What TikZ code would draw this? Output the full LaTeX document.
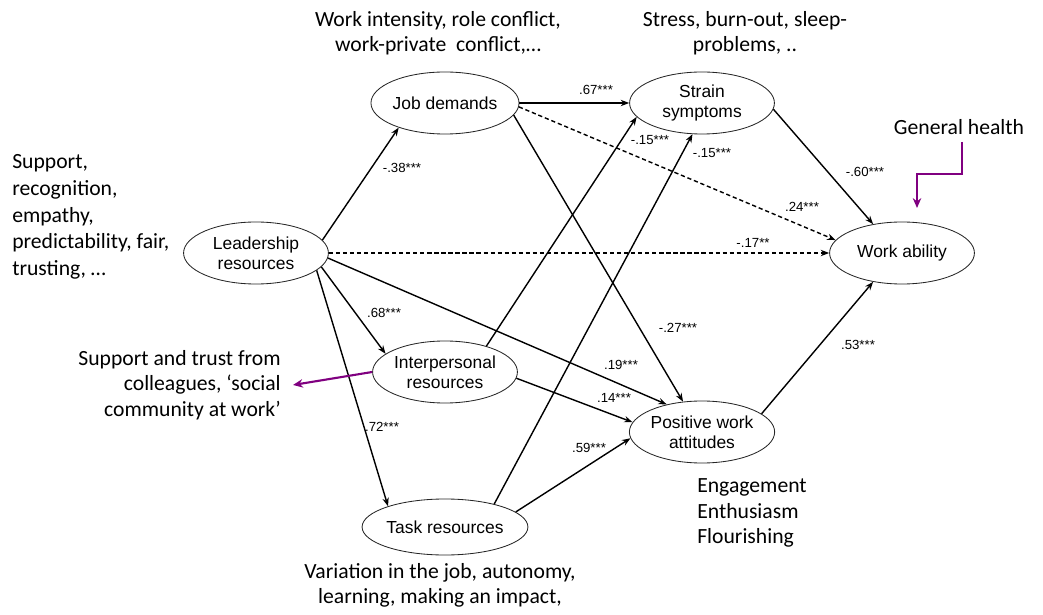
\documentclass[tikz,border=0pt]{standalone}
\usepackage{fontspec}
\setmainfont{Carlito}
\newfontfamily\diagfont{Liberation Sans}
\usetikzlibrary{arrows.meta,shapes.geometric}
\definecolor{notepurple}{RGB}{128,0,128}

\begin{document}
\begin{tikzpicture}[x=0.025cm,y=-0.025cm,
    construct/.style={ellipse, draw=black!85, line width=0.6pt, minimum width=3.62cm,
        minimum height=1.55cm, inner sep=0pt, align=center,
        font=\diagfont\fontsize{12.4}{14.5}\selectfont},
    effect/.style={-{Stealth[length=6pt,width=4.5pt]}, line width=1pt},
    weak/.style={effect, dash pattern=on 3pt off 2pt},
    coef/.style={font=\diagfont\fontsize{9.4}{10}\selectfont, inner sep=1pt},
    note/.style={font=\fontsize{15.4}{18}\selectfont, inner sep=0pt},
    pointer/.style={-{Stealth[length=7pt,width=6pt]}, line width=1.5pt, notepurple}]
    \useasboundingbox (0,0) rectangle (1043,615);

    % constructs of the model
    \node[construct] (job) at (445,103) {Job demands};
    \node[construct] (strain) at (702,103) {Strain\\symptoms};
    \node[construct] (lead) at (256,253) {Leadership\\resources};
    \node[construct] (work) at (902,253) {Work ability};
    \node[construct] (inter) at (445,372) {Interpersonal\\resources};
    \node[construct] (pos) at (702,432) {Positive work\\attitudes};
    \node[construct, minimum height=1.4cm] (task) at (445,527) {Task resources};

    % paths
    \draw[effect] (lead.11) -- (job.208);
    \draw[effect] (job.east) -- (strain.west);
    \draw[weak] (job.-3) -- (work.169);
    \draw[effect] (job.-10) -- (pos.122);
    \draw[weak] (lead.east) -- (work.west);
    \draw[effect] (strain.-5) -- (work.135);
    \draw[effect] (inter.32) -- (strain.192);
    \draw[effect] (task.25) -- (strain.253);
    \draw[effect] (lead.-12) -- (inter.163);
    \draw[effect] (lead.-4) -- (pos.142);
    \draw[effect] (lead.-16) -- (task.160);
    \draw[effect] (inter.-5) -- (pos.172);
    \draw[effect] (task.12) -- (pos.185);
    \draw[effect] (pos.17) -- (work.225);

    % path coefficients
    \node[coef] (c38) at (402,168) {-.38***};
    \node[coef] (c67) at (596,90) {.67***};
    \node[coef] (c24) at (802,207) {.24***};
    \node[coef] (c27) at (678,328) {-.27***};
    \node[coef] (c17) at (753,243) {-.17**};
    \node[coef] (c60) at (865,172) {-.60***};
    \node[coef] (c15a) at (650,140) {-.15***};
    \node[coef] (c15b) at (712,153) {-.15***};
    \node[coef] (c68) at (384,313) {.68***};
    \node[coef] (c19) at (621,365) {.19***};
    \node[coef] (c72) at (382,427) {.72***};
    \node[coef] (c14) at (614,398) {.14***};
    \node[coef] (c59) at (589,448) {.59***};
    \node[coef] (c53) at (858,345) {.53***};

    % explanations
    \node[note, align=center] (jobnote) at (438,33) {Work intensity, role conflict,\\work-private\ \ conflict,…};
    \node[note, align=center] (strainnote) at (745,33) {Stress, burn-out, sleep-\\problems, ..};
    \node[note, align=left, anchor=west, font=\fontsize{15.4}{19}\selectfont] (leadnote) at (12,217)
        {Support,\\recognition,\\empathy,\\predictability, fair,\\trusting, …};
    \node[note, align=right, anchor=east] (collnote) at (281,385) {Support and trust from\\colleagues, ‘social\\community at work’};
    \node[note, align=left, anchor=west] (posnote) at (697,513) {Engagement\\Enthusiasm\\Flourishing};
    \node[note, align=center] (tasknote) at (440,585) {Variation in the job, autonomy,\\learning, making an impact,};
    \node[note] (health) at (959,127) {General health};

    \coordinate (healthtip) at (917,208);
    \draw[pointer] ([xshift=0.075cm,yshift=-0.175cm]health.south) -- ++(0,32) -| (healthtip);
    \draw[pointer] (inter.west) -- ([xshift=0.3cm]collnote.east);
\end{tikzpicture}
\end{document}
